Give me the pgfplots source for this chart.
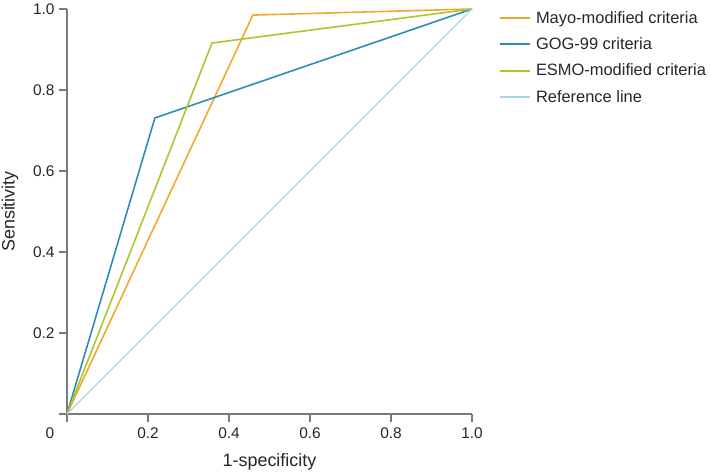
\documentclass[border=0pt]{standalone}
\usepackage{pgfplots}
\pgfplotsset{compat=1.18}
\usepackage{fontspec}
\setmainfont{Liberation Sans}
\definecolor{cOrange}{HTML}{F2A72E}
\definecolor{cBlue}{HTML}{2E8DB4}
\definecolor{cGreen}{HTML}{A9C92A}
\definecolor{cLight}{HTML}{A3D6EF}
\definecolor{cAxis}{HTML}{7A7A7A}
\definecolor{cText}{HTML}{262626}
\begin{document}
\begin{tikzpicture}
\begin{axis}[
  name=ax,
  scale only axis,
  width=405bp, height=405bp,
  xmin=0, xmax=1, ymin=0, ymax=1,
  clip=false,
  axis lines*=left,
  axis line style={cAxis, line width=1.1bp},
  every tick/.style={cAxis, line width=1.1bp},
  tick align=outside,
  major tick length=8bp,
  xtick={0,0.2,0.4,0.6,0.8,1.0},
  xticklabels={,0.2,0.4,0.6,0.8,1.0},
  ytick={0,0.2,0.4,0.6,0.8,1.0},
  yticklabels={,0.2,0.4,0.6,0.8,1.0},
  /pgf/number format/assume math mode=true,
  tick label style={font=\fontsize{15.5}{18}\selectfont, text=cText},
  xticklabel style={yshift=-2bp},
  yticklabel style={xshift=-1bp},
  xlabel={1-specificity},
  ylabel={Sensitivity},
  label style={font=\fontsize{18}{21}\selectfont, text=cText},
  xlabel style={at={(axis description cs:0.5,-0.118)}, anchor=center},
  ylabel style={at={(axis description cs:-0.141,0.5)}, anchor=center},
  legend style={draw=none, fill=none, at={(axis description cs:1.065,1.0)}, anchor=north west,
    font=\fontsize{16.5}{19.5}\selectfont, row sep=9bp, column sep=3.5bp, inner sep=0pt},
  legend cell align=left,
  legend image code/.code={\draw[#1, line width=2bp] (0bp,0bp) -- (30bp,0bp);},
]
\addplot[draw=cOrange, line width=1.6bp] coordinates {(0,0) (0.459,0.985) (1,1)};
\addlegendentry{\textcolor{cText}{Mayo-modified criteria}}
\addplot[draw=cBlue, line width=1.6bp] coordinates {(0,0) (0.217,0.731) (1,1)};
\addlegendentry{\textcolor{cText}{GOG-99 criteria}}
\addplot[draw=cGreen, line width=1.6bp] coordinates {(0,0) (0.358,0.916) (1,1)};
\addlegendentry{\textcolor{cText}{ESMO-modified criteria}}
\addplot[draw=cLight, line width=1.4bp] coordinates {(0,0) (1,1)};
\addlegendentry{\textcolor{cText}{Reference line}}
\node[font=\fontsize{15.5}{18}\selectfont, text=cText] at (axis cs:0,0) [xshift=-17bp, yshift=-19bp] {0};
\end{axis}
\pgfresetboundingbox
\path[use as bounding box] (ax.south west) ++(-67bp,-59bp) rectangle ++(710bp,473bp);
\end{tikzpicture}
\end{document}
